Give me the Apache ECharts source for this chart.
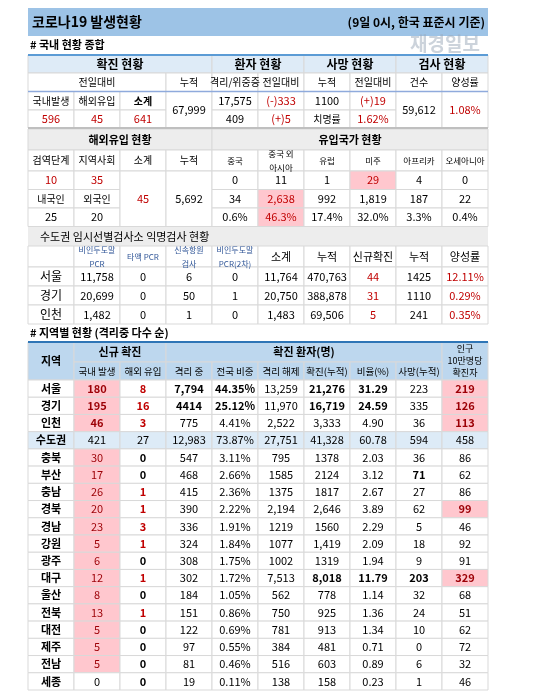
<!DOCTYPE html>
<html><head><meta charset="utf-8">
<script src="https://cdn.jsdelivr.net/npm/echarts@6/dist/echarts.min.js"></script>
<style>html,body{margin:0;padding:0;background:#fff}#c{width:548px;height:700px}</style>
</head><body><div id="c"></div>
<script>
// ---- data ----
const title = '코로나19 발생현황';
const subtitle = '(9일 0시, 한국 표준시 기준)';
const summaryHeads = ['확진 현황','환자 현황','사망 현황','검사 현황'];
const summarySub = ['전일대비','누적','격리/위중증','전일대비','누적','전일대비','건수','양성률'];
const confirmedLabels = ['국내발생','해외유입','소계'];
const confirmedValues = ['596','45','641'];
const confirmedTotal = '67,999';
const patientRow1 = ['17,575','(-)333','1100','(+)19'];
const patientRow2 = ['409','(+)5','치명률','1.62%'];
const testValues = ['59,612','1.08%'];
const importHeads = ['검역단계','지역사회','소계','누적'];
const importValues = ['10','35'];
const importOrigin = ['내국인','외국인'];
const importOriginValues = ['25','20'];
const importTotal = ['45','5,692'];
const countryNames = ['중국','중국 외\n아시아','유럽','미주','아프리카','오세아니아'];
const countryDaily = ['0','11','1','29','4','0'];
const countryCum = ['34','2,638','992','1,819','187','22'];
const countryPct = ['0.6%','46.3%','17.4%','32.0%','3.3%','0.4%'];
const anonHeads = ['','비인두도말\nPCR','타액 PCR','신속항원\n검사','비인두도말\nPCR(2차)','소계','누적','신규확진','누적','양성률'];
const anonCities = ['서울','경기','인천'];
const anonPcr = ['11,758','20,699','1,482'];
const anonSaliva = ['0','0','0'];
const anonRapid = ['6','50','1'];
const anonPcr2 = ['0','1','0'];
const anonSub = ['11,764','20,750','1,483'];
const anonCum = ['470,763','388,878','69,506'];
const anonNew = ['44','31','5'];
const anonNewCum = ['1425','1110','241'];
const anonRate = ['12.11%','0.29%','0.35%'];
const regionSub = ['국내 발생','해외 유입','격리 중','전국 비중','격리 해제','확진(누적)','비율(%)','사망(누적)'];
const regions = ['서울','경기','인천','수도권','충북','부산','충남','경북','경남','강원','광주','대구','울산','전북','대전','제주','전남','세종'];
const domestic = [180,195,46,421,30,17,26,20,23,5,6,12,8,13,5,5,5,0];
const imported = [8,16,3,27,0,0,1,1,3,1,0,1,0,1,0,0,0,0];
const isolated = ['7,794','4414','775','12,983','547','468','415','390','336','324','308','302','184','151','122','97','81','19'];
const share = ['44.35%','25.12%','4.41%','73.87%','3.11%','2.66%','2.36%','2.22%','1.91%','1.84%','1.75%','1.72%','1.05%','0.86%','0.69%','0.55%','0.46%','0.11%'];
const released = ['13,259','11,970','2,522','27,751','795','1585','1375','2,194','1219','1077','1002','7,513','562','750','781','384','516','138'];
const cumulative = ['21,276','16,719','3,333','41,328','1378','2124','1817','2,646','1560','1,419','1319','8,018','778','925','913','481','603','158'];
const ratio = ['31.29','24.59','4.90','60.78','2.03','3.12','2.67','3.89','2.29','2.09','1.94','11.79','1.14','1.36','1.34','0.71','0.89','0.23'];
const deaths = [223,335,36,594,36,71,27,62,5,18,9,203,32,24,10,0,6,1];
const per100k = [219,126,113,458,86,62,86,99,46,92,91,329,68,51,62,72,32,46];

// ---- layout ----
const F = '"Noto Sans CJK KR","Noto Sans",sans-serif';
const X0 = 28, CW = 46;
const RED = '#c00000', PINK = '#ffc7ce', PINKT = '#9c0006', LINE = '#d9d9d9';
const els = [];
const cx = c => X0 + CW * c;
function cell(c0, c1, y0, y1, text, o) {
  o = o || {};
  els.push({type:'rect', shape:{x:cx(c0), y:y0, width:cx(c1+1)-cx(c0), height:y1-y0},
    style:{fill:o.bg||'#fff', stroke:LINE, lineWidth:1}, z:1});
  if (text !== '' && text != null) els.push({type:'text', x:(cx(c0)+cx(c1+1))/2, y:(y0+y1)/2, z:3,
    style:{text:String(text), fill:o.color||'#000', font:(o.bold?'bold ':'')+(o.size||11)+'px '+F,
      align:'center', verticalAlign:'middle', lineHeight:o.lh||12}});
}
function txt(x, y, t, o) {
  els.push({type:'text', x, y, z:4, style:{text:t, fill:o.color||'#000', font:(o.bold?'bold ':'')+o.size+'px '+F,
    align:o.align||'left', verticalAlign:'middle', opacity:o.op==null?1:o.op}});
}
function hline(y, color, w) { els.push({type:'line', z:5, shape:{x1:cx(0), y1:y, x2:cx(10), y2:y}, style:{stroke:color, lineWidth:w}}); }

// title
els.push({type:'rect', shape:{x:cx(0), y:8, width:cx(10)-cx(0), height:28}, style:{fill:'#9dc3e6'}});
txt(32, 22, title, {size:14, bold:true});
txt(485, 22, subtitle, {size:12, bold:true, align:'right'});
txt(30, 45, '# 국내 현황 종합', {size:11, bold:true});
txt(480, 44, '재경일보', {size:19, bold:true, align:'right', color:'#9aa7b8', op:0.5});

// section 1
const HB = '#deebf7';
let Y = [55,73,91.5,110,128];
cell(0,3,Y[0],Y[1],summaryHeads[0],{bg:HB,bold:true,size:12});
cell(4,5,Y[0],Y[1],summaryHeads[1],{bg:HB,bold:true,size:12});
cell(6,7,Y[0],Y[1],summaryHeads[2],{bg:HB,bold:true,size:12});
cell(8,9,Y[0],Y[1],summaryHeads[3],{bg:HB,bold:true,size:12});
cell(0,2,Y[1],Y[2],summarySub[0],{size:10});
summarySub.slice(1).forEach((t,i)=>cell(i+3,i+3,Y[1],Y[2],t,{size:10}));
confirmedLabels.forEach((t,i)=>cell(i,i,Y[2],Y[3],t,{size:10,bold:i==2}));
confirmedValues.forEach((t,i)=>cell(i,i,Y[3],Y[4],t,{color:RED,size:11}));
cell(3,3,Y[2],Y[4],confirmedTotal,{size:11});
patientRow1.forEach((t,i)=>cell(i+4,i+4,Y[2],Y[3],t,{color:i%2?RED:'#000',size:11}));
patientRow2.forEach((t,i)=>cell(i+4,i+4,Y[3],Y[4],t,{color:i%2?RED:'#000',size:i==2?10:11}));
cell(8,8,Y[2],Y[4],testValues[0],{size:11});
cell(9,9,Y[2],Y[4],testValues[1],{size:11,color:RED});
hline(Y[0],'#5b9bd5',2); hline(Y[2],'#8faadc',1.5); hline(Y[4],'#bfbfbf',2);

// section 2
const GB = '#ededed';
Y = [129,150,171,189.5,208,226.5];
cell(0,3,Y[0],Y[1],'해외유입 현황',{bg:GB,bold:true,size:11});
cell(4,9,Y[0],Y[1],'유입국가 현황',{bg:GB,bold:true,size:11});
importHeads.forEach((t,i)=>cell(i,i,Y[1],Y[2],t,{size:10}));
countryNames.forEach((t,i)=>cell(i+4,i+4,Y[1],Y[2],t,{size:8.5,lh:14}));
importValues.forEach((t,i)=>cell(i,i,Y[2],Y[3],t,{color:RED}));
importOrigin.forEach((t,i)=>cell(i,i,Y[3],Y[4],t,{size:10}));
importOriginValues.forEach((t,i)=>cell(i,i,Y[4],Y[5],t,{}));
cell(2,2,Y[2],Y[5],importTotal[0],{color:RED});
cell(3,3,Y[2],Y[5],importTotal[1],{});
const pinkIdx2 = [3];
countryDaily.forEach((t,i)=>cell(i+4,i+4,Y[2],Y[3],t,{bg:i==3?PINK:'#fff',color:i==3?RED:'#000'}));
countryCum.forEach((t,i)=>cell(i+4,i+4,Y[3],Y[4],t,{bg:i==1?PINK:'#fff',color:i==1?RED:'#000'}));
countryPct.forEach((t,i)=>cell(i+4,i+4,Y[4],Y[5],t,{bg:i==1?PINK:'#fff',color:i==1?RED:'#000'}));

// section 3
Y = [227,246,267,286,305,324];
els.push({type:'rect', z:1, shape:{x:cx(0), y:Y[0], width:cx(10)-cx(0), height:Y[1]-Y[0]}, style:{fill:GB}});
txt(40, (Y[0]+Y[1])/2, '수도권 임시선별검사소 익명검사 현황', {size:11});
anonHeads.forEach((t,i)=>cell(i,i,Y[1],Y[2],t,i>=1&&i<=4?{size:8,color:'#2f5597',lh:14}:{size:11}));
const anonCols = [anonCities,anonPcr,anonSaliva,anonRapid,anonPcr2,anonSub,anonCum,anonNew,anonNewCum,anonRate];
anonCities.forEach((_,r)=>anonCols.forEach((col,c)=>cell(c,c,Y[r+2],Y[r+3],col[r],{size:c==0?12:11,color:(c==7||c==9)?RED:'#000'})));

// section 4
txt(30, 333, '# 지역별 현황 (격리중 다수 순)', {size:11, bold:true});
const RB = '#bdd7ee';
const H = [342,362,380];
cell(0,0,H[0],H[2],'지역',{bg:RB,bold:true,size:11});
cell(1,2,H[0],H[1],'신규 확진',{bg:RB,bold:true,size:11});
cell(3,8,H[0],H[1],'확진 환자(명)',{bg:RB,bold:true,size:11});
cell(9,9,H[0],H[2],'인구\n10만명당\n확진자',{bg:RB,size:9,lh:12});
regionSub.forEach((t,i)=>cell(i+1,i+1,H[1],H[2],t,{bg:RB,size:9.5}));
hline(H[0],'#2e75b6',2);
const RH = (690-380)/regions.length;
const pink9 = [0,1,2,7,11];
const boldSet = {0:[3,4,6,7],1:[3,4,6,7],11:[6,7,8],5:[8]};
const cols4 = [regions,domestic,imported,isolated,share,released,cumulative,ratio,deaths,per100k];
regions.forEach((_,r)=>{
  const y0 = 380 + r*RH, y1 = y0 + RH;
  const isCap = r==3;
  cols4.forEach((col,c)=>{
    let o = {size:c==0?11:11, bold:c==0||c==2||(boldSet[r]||[]).includes(c)};
    if (isCap) { o.bg = '#ddebf7'; o.bold = c==0; }
    else if (c==1 && domestic[r]>0) { o.bg = PINK; o.color = PINKT; o.bold = r<3; }
    else if (c==2 && imported[r]>0) { o.color = RED; }
    else if (c==9 && pink9.includes(r)) { o.bg = PINK; o.color = PINKT; o.bold = true; }
    cell(c,c,y0,y1,col[r],o);
  });
});

const chart = echarts.init(document.getElementById('c'));
chart.setOption({animation:false, graphic:{elements:els}});
</script></body></html>
